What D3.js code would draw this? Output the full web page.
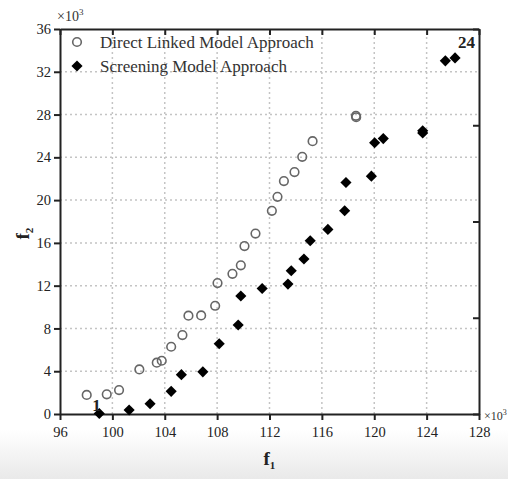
<!DOCTYPE html>
<html>
<head>
<meta charset="utf-8">
<title>f1 vs f2</title>
<script src="https://d3js.org/d3.v7.min.js"></script>
<style>
  body { margin: 0; background: #fff; }
  text { font-family: "Liberation Serif", "DejaVu Serif", serif; }
</style>
</head>
<body>
<script>
// values in units of 10^3
const directF1 = [98.04, 99.57, 100.51, 102.06, 103.39, 103.77, 104.49, 105.35, 105.81, 106.78, 107.85, 108.03,
                  109.17, 109.81, 110.09, 110.93, 112.18, 112.61, 113.10, 113.91, 114.50, 115.29, 118.60, 118.62];
const directF2 = [1.78, 1.84, 2.24, 4.17, 4.80, 4.98, 6.29, 7.38, 9.19, 9.22, 10.12, 12.24,
                  13.11, 13.90, 15.70, 16.87, 19.00, 20.31, 21.78, 22.62, 24.05, 25.51, 27.88, 27.75];
const screenF1 = [99.0, 101.28, 102.88, 104.49, 105.27, 106.91, 108.16, 109.61, 109.81, 111.44, 113.41, 113.66,
                  114.63, 115.11, 116.46, 117.74, 117.84, 119.78, 120.03, 120.69, 123.70, 123.70, 125.43, 126.17];
const screenF2 = [0.05, 0.37, 0.96, 2.12, 3.68, 3.94, 6.57, 8.32, 11.03, 11.74, 12.15, 13.40,
                  14.49, 16.20, 17.26, 19.00, 21.65, 22.24, 25.36, 25.75, 26.28, 26.48, 33.02, 33.30];
const xTicks = [96, 100, 104, 108, 112, 116, 120, 124, 128];
const yTicks = [0, 4, 8, 12, 16, 20, 24, 28, 32, 36];
const yRightTicks = [0, 9, 18, 27, 36];
const legendNames = ["Direct Linked Model Approach", "Screening Model Approach"];

const width = 508, height = 479;
const margin = {top: 29, right: 29, bottom: 65, left: 60};

const svg = d3.select("body").append("svg")
  .attr("width", width)
  .attr("height", height);

// faint grey band at the bottom of the frame
const grad = svg.append("defs").append("linearGradient")
  .attr("id", "bottomFade").attr("x1", 0).attr("x2", 0).attr("y1", 0).attr("y2", 1);
grad.append("stop").attr("offset", "0%").attr("stop-color", "#ffffff");
grad.append("stop").attr("offset", "100%").attr("stop-color", "#e9e9e9");
svg.append("rect").attr("x", 0).attr("y", 430).attr("width", width).attr("height", height - 430)
  .attr("fill", "url(#bottomFade)");

const x = d3.scaleLinear().domain([96, 128]).range([margin.left, width - margin.right]);
const y = d3.scaleLinear().domain([0, 36]).range([height - margin.bottom, margin.top]);

// dotted grid
const grid = svg.append("g").attr("stroke", "#c4c4c4").attr("stroke-width", 1.5).attr("stroke-dasharray", "2,3");
grid.selectAll("line.v").data(xTicks.slice(1, -1)).enter().append("line")
  .attr("x1", d => x(d)).attr("x2", d => x(d))
  .attr("y1", y(0)).attr("y2", y(36));
grid.selectAll("line.h").data(yTicks.slice(1, -1)).enter().append("line")
  .attr("x1", x(96)).attr("x2", x(128))
  .attr("y1", d => y(d)).attr("y2", d => y(d));

// axes
const axisStyle = g => {
  g.select(".domain").attr("stroke", "#222").attr("stroke-width", 2);
  g.selectAll(".tick line").attr("stroke", "#222").attr("stroke-width", 2);
  g.selectAll(".tick text").attr("fill", "#222").attr("font-size", 14.5)
    .attr("font-family", "Liberation Serif, serif");
};

svg.append("g").attr("transform", `translate(0,${y(0)})`)
  .call(d3.axisBottom(x).tickValues(xTicks).tickSize(6).tickPadding(7).tickSizeOuter(0))
  .call(axisStyle);
svg.append("g").attr("transform", `translate(${x(96)},0)`)
  .call(d3.axisLeft(y).tickValues(yTicks).tickSize(6).tickPadding(3).tickSizeOuter(0))
  .call(axisStyle);
svg.append("g").attr("transform", `translate(0,${y(36)})`)
  .call(d3.axisBottom(x).tickValues(xTicks).tickSize(6).tickFormat("").tickSizeOuter(0))
  .call(axisStyle);
svg.append("g").attr("transform", `translate(${x(128)},0)`)
  .call(d3.axisLeft(y).tickValues(yRightTicks).tickSize(6).tickFormat("").tickSizeOuter(0))
  .call(axisStyle);

// exponent labels
const expTop = svg.append("text").attr("x", x(96) - 3).attr("y", y(36) - 8)
  .attr("font-size", 14).attr("fill", "#333");
expTop.append("tspan").text("×10");
expTop.append("tspan").attr("font-size", 9).attr("dy", -6).text("3");
const expRight = svg.append("text").attr("x", x(128) + 5).attr("y", y(0) + 6)
  .attr("font-size", 12).attr("fill", "#333");
expRight.append("tspan").text("×10");
expRight.append("tspan").attr("font-size", 8).attr("dy", -5).text("3");

// axis titles
const xTitle = svg.append("text").attr("x", (x(96) + x(128)) / 2 - 6).attr("y", 465)
  .attr("font-size", 19).attr("font-weight", "bold").attr("fill", "#222");
xTitle.append("tspan").text("f");
xTitle.append("tspan").attr("font-size", 11).attr("dy", 4).text("1");
const yTitle = svg.append("text")
  .attr("transform", `translate(29,${(y(0) + y(36)) / 2 + 18}) rotate(-90)`)
  .attr("font-size", 19).attr("font-weight", "bold").attr("fill", "#222");
yTitle.append("tspan").text("f");
yTitle.append("tspan").attr("font-size", 11).attr("dy", 4).text("2");

// points
const diamond = d3.symbol().type(d3.symbolSquare).size(62);
svg.append("g").selectAll("circle").data(directF1).enter().append("circle")
  .attr("cx", d => x(d)).attr("cy", (d, i) => y(directF2[i]))
  .attr("r", 4.3).attr("fill", "none").attr("stroke", "#666").attr("stroke-width", 1.6);
svg.append("g").selectAll("path").data(screenF1).enter().append("path")
  .attr("d", diamond)
  .attr("transform", (d, i) => `translate(${x(d)},${y(screenF2[i])}) rotate(45)`)
  .attr("fill", "#000");

// point labels
svg.append("text").attr("x", x(screenF1[0]) - 7).attr("y", y(0) - 3)
  .attr("font-size", 17).attr("font-weight", "bold").attr("fill", "#222").text("1");
svg.append("text").attr("x", x(128) - 4).attr("y", y(36) + 19).attr("text-anchor", "end")
  .attr("font-size", 17).attr("font-weight", "bold").attr("fill", "#222").text("24");

// legend
const legend = svg.append("g");
legend.append("circle").attr("cx", 77).attr("cy", 42).attr("r", 4.3)
  .attr("fill", "none").attr("stroke", "#666").attr("stroke-width", 1.6);
legend.append("path").attr("d", diamond).attr("transform", "translate(77,66) rotate(45)").attr("fill", "#000");
legend.selectAll("text").data(legendNames).enter().append("text")
  .attr("x", 100).attr("y", (d, i) => 48 + i * 24)
  .attr("font-size", 17).attr("fill", "#333").text(d => d);
</script>
</body>
</html>
